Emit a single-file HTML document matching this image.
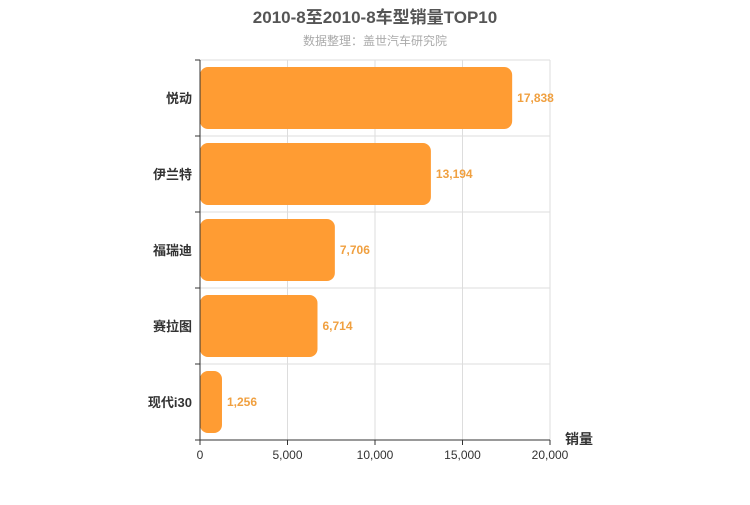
<!DOCTYPE html>
<html><head><meta charset="utf-8"><style>
body{margin:0;background:#fff;}
svg text{font-family:"Liberation Sans","Noto Sans CJK SC",sans-serif;}
</style></head><body>
<svg id="chart" width="750" height="500" xmlns="http://www.w3.org/2000/svg">
<text x="375" y="23" text-anchor="middle" font-size="17" font-weight="bold" fill="#555">2010-8至2010-8车型销量TOP10</text>
<text x="375" y="45" text-anchor="middle" font-size="12" fill="#aaa">数据整理：盖世汽车研究院</text>
<g id="grid"></g>
<g id="bars"></g>
<g id="axes"></g>
<text x="565" y="444" font-size="14" font-weight="bold" fill="#333">销量</text>
</svg>
<script>
const categories = ["悦动","伊兰特","福瑞迪","赛拉图","现代i30"];
const values = [17838,13194,7706,6714,1256];
const tickValues = [0,5000,10000,15000,20000];
const tickLabels = ["0","5,000","10,000","15,000","20,000"];
const NS="http://www.w3.org/2000/svg";
const x0=200,x1=550,y0=60,y1=440,xMax=20000;
const xs=v=>x0+(v/xMax)*(x1-x0);
const band=(y1-y0)/categories.length;
function mk(tag,attrs,parent){const e=document.createElementNS(NS,tag);for(const k in attrs)e.setAttribute(k,attrs[k]);parent.appendChild(e);return e;}
const grid=document.getElementById('grid'),bars=document.getElementById('bars'),axes=document.getElementById('axes');
tickValues.forEach((v,i)=>{
  if(i>0){const l=mk('line',{x1:xs(v),x2:xs(v),y1:y0,y2:y1,stroke:'#ddd'},grid);
  
  }
  const t=mk('line',{x1:xs(v),x2:xs(v),y1:y1,y2:y1+5,stroke:'#333'},axes);
  
  
  const tx=mk('text',{x:xs(v),y:y1+19,'text-anchor':'middle','font-size':12,fill:'#333'},axes);
  tx.textContent=tickLabels[i];
  
  
});
for(let i=0;i<=categories.length;i++){
  const y=y0+i*band;
  if(i>0&&i<categories.length){const g=mk('line',{x1:x0,x2:x1,y1:y,y2:y,stroke:'#ddd'},grid);
  
  }
  const t=mk('line',{x1:x0-5,x2:x0,y1:y,y2:y,stroke:'#333'},axes);
  
  
}
const topBorder=mk('line',{x1:x0,x2:x1,y1:y0,y2:y0,stroke:'#ddd'},grid);


const ax=mk('line',{x1:x0,x2:x0,y1:y0,y2:y1,stroke:'#333'},axes);


const bx=mk('line',{x1:x0,x2:x1,y1:y1,y2:y1,stroke:'#333'},axes);


categories.forEach((c,i)=>{
  const yc=y0+band*(i+0.5);
  const r=mk('rect',{x:x0,y:yc-31,width:Math.max(0,xs(values[i])-x0),height:62,rx:8,ry:8,fill:'#ff9c33'},bars);
  
  
  const v=mk('text',{x:xs(values[i])+5,y:yc+4,'font-size':12,'font-weight':'bold',fill:'#f0a040'},bars);
  v.textContent=values[i].toLocaleString('en-US');
  
  
  const l=mk('text',{x:x0-8,y:yc+5,'text-anchor':'end','font-size':13,'font-weight':'bold',fill:'#333'},axes);
  l.textContent=c;
  
  
});
</script>
</body></html>
